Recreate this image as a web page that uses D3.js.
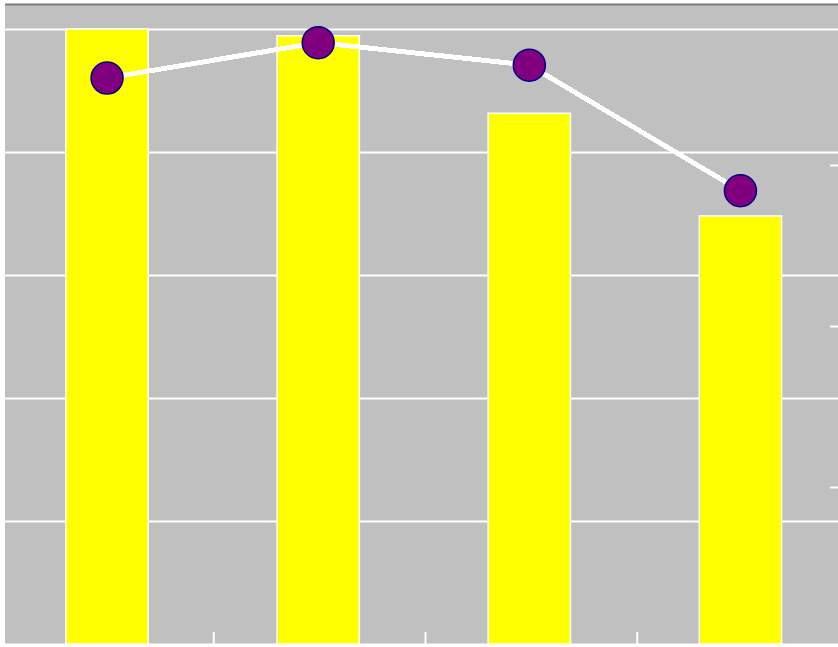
<!DOCTYPE html>
<html>
<head>
<meta charset="utf-8">
<script src="https://cdn.jsdelivr.net/npm/d3@7/dist/d3.min.js"></script>
<style>
  html, body { margin: 0; padding: 0; background: #ffffff; overflow: hidden; }
  svg { display: block; }
</style>
</head>
<body>
<script>
// Quarterly bars (left axis) with a trend line (right axis)
const categories = ["Q1", "Q2", "Q3", "Q4"];
const barValues = [100, 98.9, 86.3, 69.6];
const lineValues = [35.4, 37.6, 36.2, 28.4];
const leftTicks = [0, 20, 40, 60, 80, 100];
const rightTicks = [10, 20, 30];

const W = 838, H = 647;
const plot = { left: 5, top: 5, right: 848, bottom: 644 };

const svg = d3.select("body").append("svg")
  .attr("width", W).attr("height", H);

// plot background
svg.append("rect")
  .attr("x", plot.left).attr("y", plot.top)
  .attr("width", plot.right - plot.left).attr("height", plot.bottom - plot.top)
  .attr("fill", "#c0c0c0");

// top frame line
svg.append("line")
  .attr("x1", plot.left).attr("x2", W)
  .attr("y1", 4.5).attr("y2", 4.5)
  .attr("stroke", "#7a7a7a").attr("stroke-width", 2);

const x = d3.scaleBand()
  .domain(categories)
  .range([1.5, 846])
  .paddingInner(0.61)
  .paddingOuter(0.305);

const xIdx = d3.scaleLinear().domain([0, categories.length]).range([1.5, 848.5]);

const y = d3.scaleLinear().domain([0, 100]).range([644, 29]);
const yR = d3.scaleLinear().domain([0, 40]).range([648, 4]);

// horizontal grid from the left axis
const grid = svg.append("g")
  .attr("transform", `translate(${plot.left},0)`)
  .call(d3.axisLeft(y).tickValues(leftTicks)
    .tickSize(-(plot.right - plot.left)).tickFormat(""));
grid.select(".domain").remove();
grid.selectAll(".tick line").attr("stroke", "#ffffff").attr("stroke-width", 2);

// category boundary ticks on the bottom axis
const bottomAxis = svg.append("g")
  .attr("transform", `translate(0,${plot.bottom})`)
  .call(d3.axisBottom(xIdx).tickValues([1, 2, 3]).tickSize(-12).tickFormat(""));
bottomAxis.select(".domain").remove();
bottomAxis.selectAll(".tick line").attr("stroke", "#ffffff").attr("stroke-width", 2);

// right axis ticks for the line series
const rightAxis = svg.append("g")
  .attr("transform", `translate(843,0)`)
  .call(d3.axisRight(yR).tickValues(rightTicks).tickSize(-13).tickFormat(""));
rightAxis.select(".domain").remove();
rightAxis.selectAll(".tick line").attr("stroke", "#ffffff").attr("stroke-width", 2);

// bars
svg.append("g").selectAll("rect")
  .data(barValues)
  .join("rect")
  .attr("x", (d, i) => x(categories[i]))
  .attr("y", d => y(d))
  .attr("width", x.bandwidth())
  .attr("height", d => y(0) - y(d))
  .attr("fill", "#ffff00")
  .attr("stroke", "#ffffff")
  .attr("stroke-width", 1.5);

// line
const cx = (d, i) => x(categories[i]) + x.bandwidth() / 2;
const line = d3.line()
  .x(cx)
  .y(d => yR(d));

svg.append("path")
  .datum(lineValues)
  .attr("d", line)
  .attr("fill", "none")
  .attr("stroke", "#ffffff")
  .attr("stroke-width", 5)
  .attr("shape-rendering", "crispEdges");

// markers
svg.append("g").selectAll("circle")
  .data(lineValues)
  .join("circle")
  .attr("cx", cx)
  .attr("cy", d => yR(d))
  .attr("r", 16)
  .attr("fill", "#800080")
  .attr("stroke", "#000080")
  .attr("stroke-width", 1.5);
</script>
</body>
</html>
